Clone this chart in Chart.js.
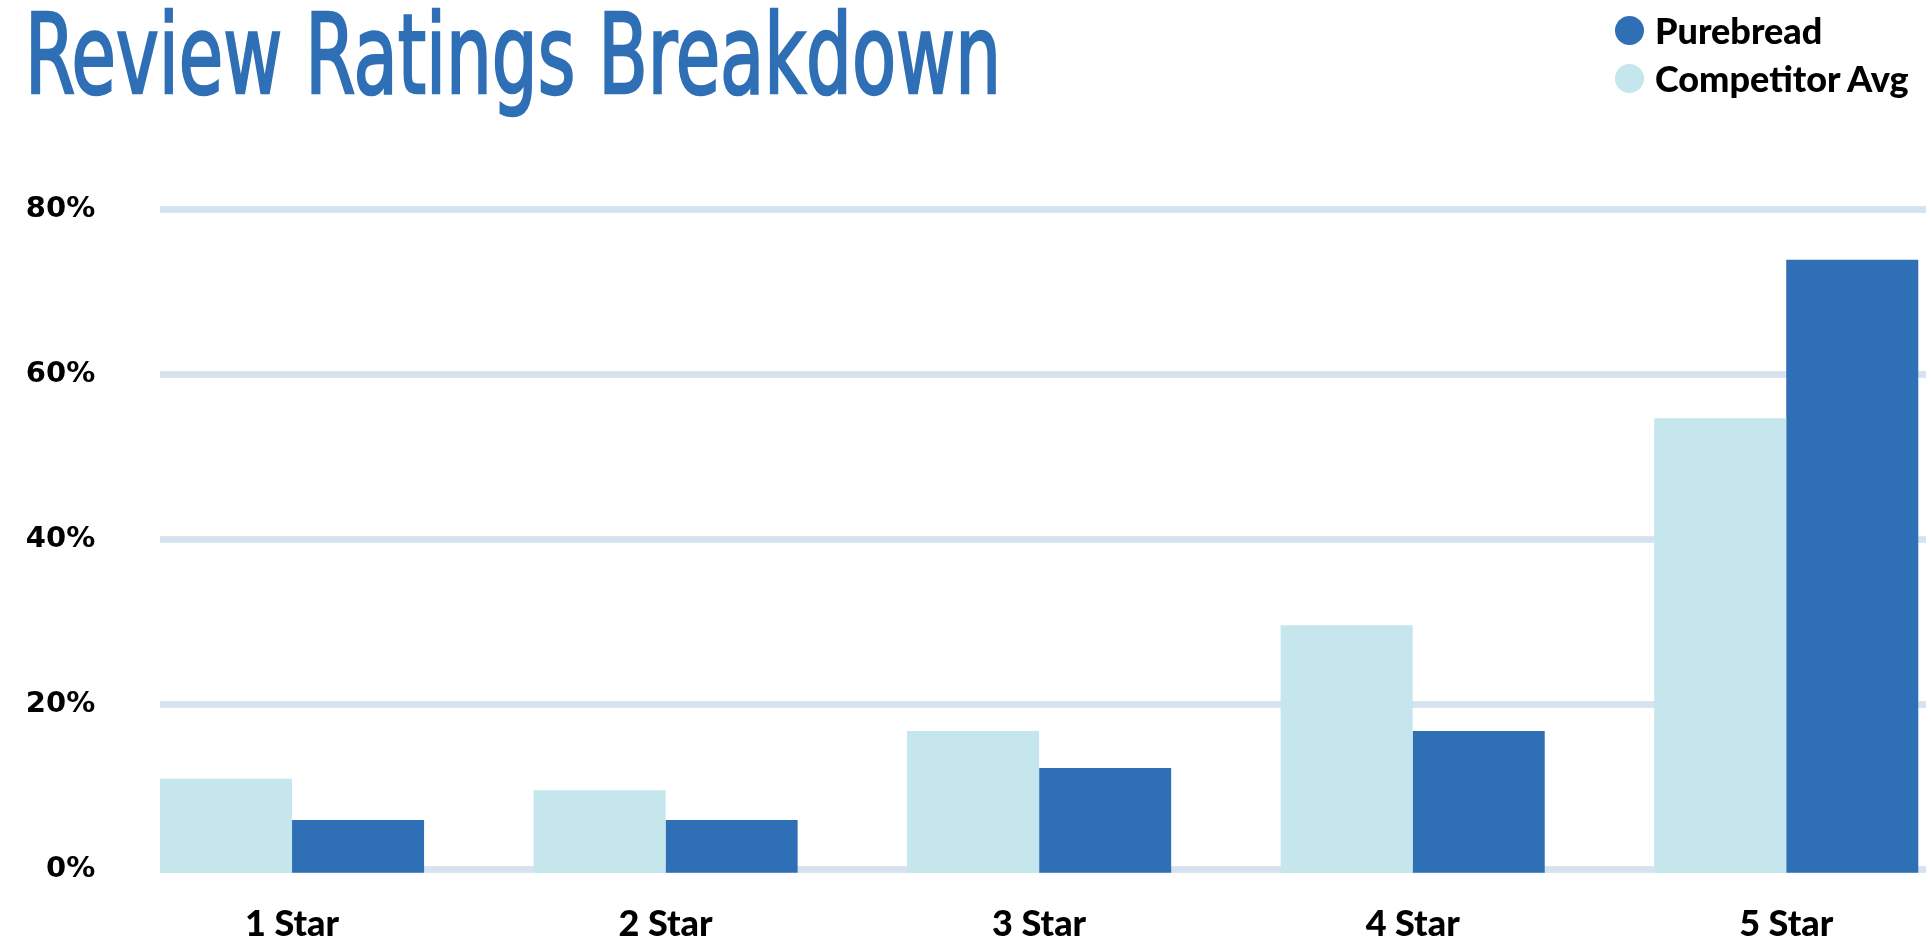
<!DOCTYPE html>
<html>
<head>
<meta charset="utf-8">
<script src="https://cdn.jsdelivr.net/npm/chart.js@4.4.1/dist/chart.umd.min.js"></script>
<style>
  html, body { margin: 0; padding: 0; background: #fff; width: 1926px; height: 942px; overflow: hidden; }
  #chart { position: absolute; left: 0; top: 0; }
  #title {
    position: absolute; left: 25px; top: -8px; margin: 0;
    font-family: "Liberation Sans Narrow", "DejaVu Sans Condensed", sans-serif;
    font-weight: normal; font-size: 110px; color: #2F6FB5;
    -webkit-text-stroke: 2.5px #2F6FB5;
    white-space: nowrap; transform-origin: left top; line-height: 1.15;
  }
  #legend { position: absolute; left: 1615px; top: 6px; font-family: Lato, sans-serif; font-weight: 900; font-size: 36px; color: #000; }
  #legend div { display: flex; align-items: center; height: 48px; white-space: nowrap; }
  #legend span.dot { width: 29px; height: 29px; border-radius: 50%; margin-right: 11px; display: inline-block; }
</style>
</head>
<body>
<canvas id="chart" width="1973" height="942"></canvas>
<h1 id="title">Review Ratings Breakdown</h1>
<div id="legend"></div>
<script>
// DATOS
const categories = ["1 Star", "2 Star", "3 Star", "4 Star", "5 Star"];
const competitorAvg = [11, 9.6, 16.8, 29.6, 54.7];
const purebread = [6, 6, 12.3, 16.8, 73.9];
const yTicks = [0, 20, 40, 60, 80];

// COLORES
const BLUE = "#2F6FB5";
const LIGHT = "#C4E6EC";
const GRID = "#D5E2EF";

// TITULO: ajustar ancho como en la imagen
const title = document.getElementById("title");
title.style.transform = "scaleX(" + (976 / title.offsetWidth) + ")";

// LEYENDA
const legendItems = [["Purebread", BLUE], ["Competitor Avg", LIGHT]];
const legend = document.getElementById("legend");
legendItems.forEach(([label, color]) => {
    const row = document.createElement("div");
    const dot = document.createElement("span");
    dot.className = "dot";
    dot.style.background = color;
    row.appendChild(dot);
    row.appendChild(document.createTextNode(label));
    legend.appendChild(row);
});

// LINEAS DE GRILLA desde el borde de la primera barra
const gridPlugin = {
    id: "barGrid",
    beforeDatasetsDraw(chart) {
        const { ctx, chartArea, scales: { y } } = chart;
        const first = chart.getDatasetMeta(0).data[0];
        const x0 = first.x - first.width / 2;
        ctx.save();
        ctx.fillStyle = GRID;
        y.ticks.forEach(t => {
            const py = y.getPixelForValue(t.value);
            ctx.fillRect(x0, py - 3.35, chartArea.right - x0, 6.7);
        });
        ctx.restore();
    }
};

// GRAFICO
const chart = new Chart(document.getElementById("chart"), {
    type: "bar",
    data: {
        labels: categories,
        datasets: [
            { label: "Competitor Avg", data: competitorAvg, backgroundColor: LIGHT },
            { label: "Purebread", data: purebread, backgroundColor: BLUE }
        ]
    },
    options: {
        responsive: false,
        animation: false,
        layout: { padding: { top: 209.5, left: 0, right: 0, bottom: 0 } },
        datasets: {
            bar: { categoryPercentage: 0.707, barPercentage: 1, base: -0.4, clip: false, borderWidth: 0 }
        },
        plugins: { legend: { display: false }, tooltip: { enabled: false } },
        scales: {
            x: {
                grid: { display: false },
                border: { display: false },
                ticks: { color: "#000", padding: 25, font: { family: "Lato", weight: "900", size: 36 } },
                afterFit: s => { s.height = 72.5; }
            },
            y: {
                min: yTicks[0],
                max: yTicks[yTicks.length - 1],
                grid: { display: false },
                border: { display: false },
                afterBuildTicks: s => { s.ticks = yTicks.map(v => ({ value: v })); },
                ticks: {
                    color: "#000", padding: 2,
                    font: { family: "DejaVu Sans", weight: "bold", size: 29 },
                    callback: v => v + "%"
                },
                afterFit: s => { s.width = 105.25; }
            }
        }
    },
    plugins: [gridPlugin]
});
</script>
</body>
</html>
